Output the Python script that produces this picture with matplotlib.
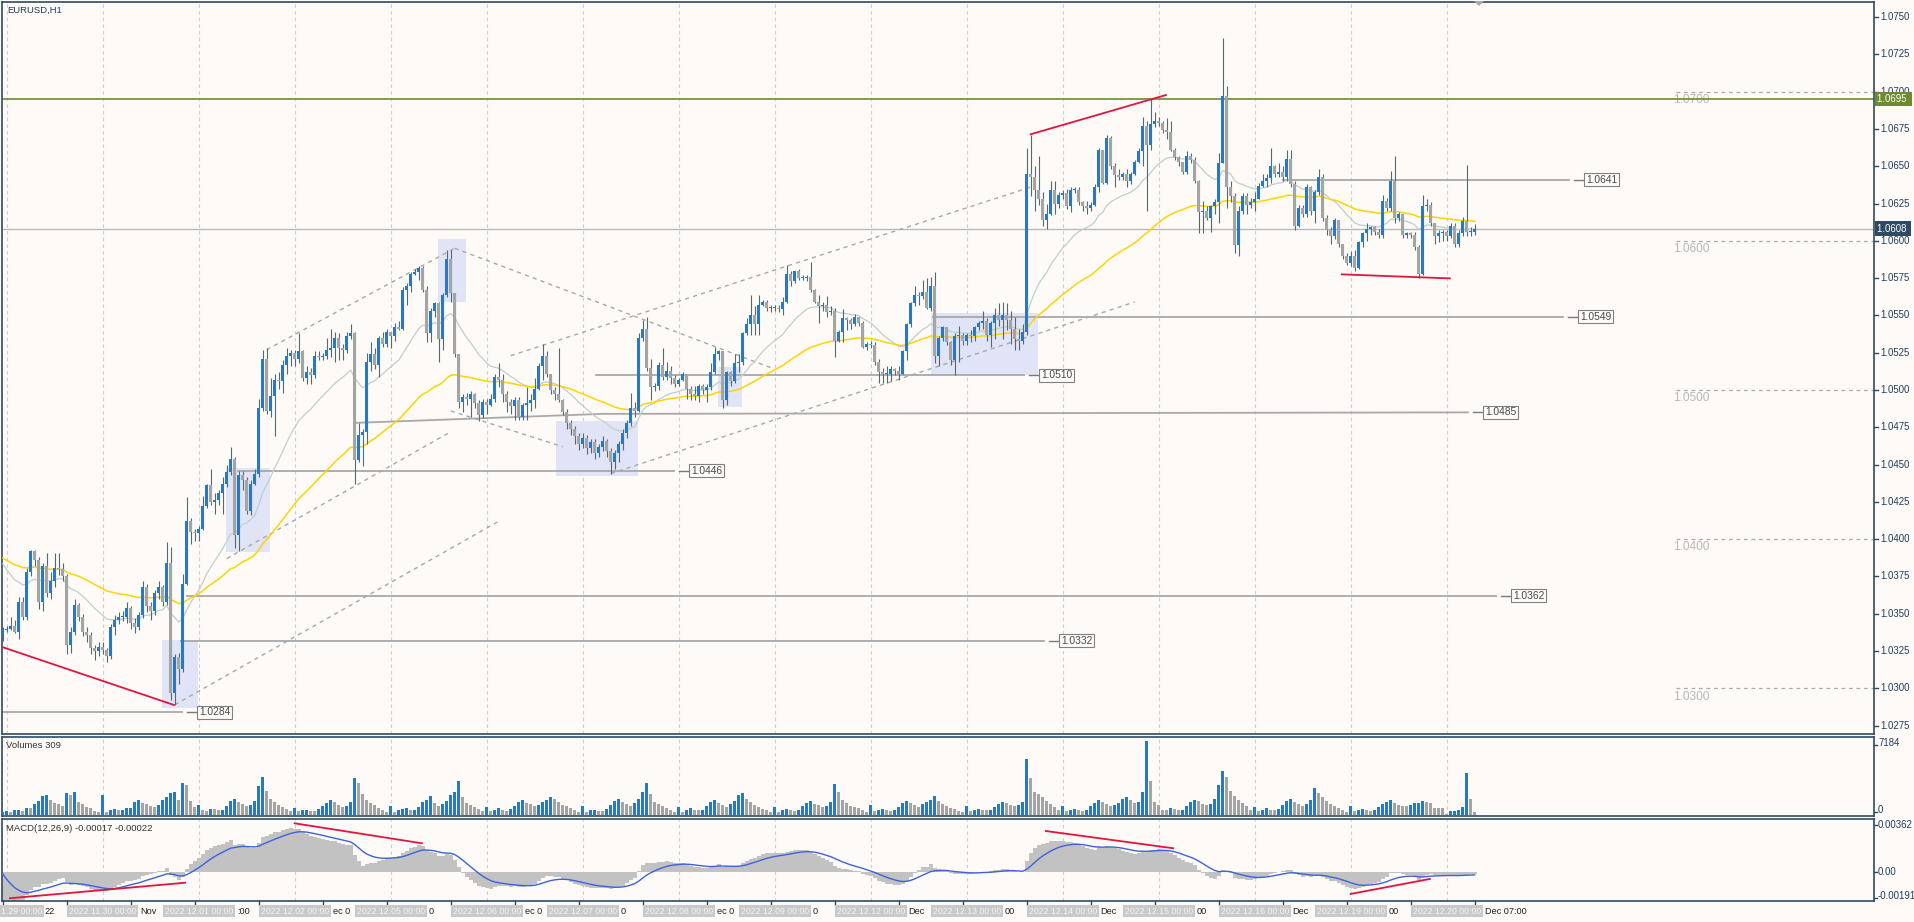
import numpy as np
import matplotlib
matplotlib.use("Agg")
import matplotlib.pyplot as plt
import matplotlib.transforms as mtrans
from matplotlib.patches import Rectangle, Polygon

plt.rcParams['font.family'] = ['Liberation Sans', 'DejaVu Sans']

# ---------------- data (prices in 1e-4 above 1.0000) ----------------
first_open_pips = 336
close_pips = [
 339,340,342,338,358,348,378,392,386,358, 382,364,372,381,380,375,329,338,356,348,
 338,336,327,325,328,326,322,341,346,348, 348,354,344,341,349,368,355,352,364,368,
 358,384,297,321,313,370,412,405,404,407, 422,436,425,426,431,437,445,454,403,443,
 440,419,437,444,488,521,486,496,507,506, 517,523,525,521,526,508,512,510,523,522,
 523,527,528,535,528,527,536,538,453,470, 472,519,524,517,535,531,539,536,542,541,
 567,570,578,579,582,567,538,553,558,534, 564,588,565,524,492,495,494,497,491,483,
 492,490,494,509,507,497,492,489,493,482, 490,491,493,501,516,523,511,500,497,493,
 485,478,474,469,464,468,461,465,458,462, 466,459,452,458,464,471,478,488,486,535,
 541,515,502,503,517,509,513,508,504,507, 511,501,497,496,503,500,502,512,524,526,
 493,512,506,518,519,538,544,550,544,557, 559,555,555,555,554,559,578,573,580,575,
 575,576,567,559,556,557,552,553,533,539, 548,547,544,549,545,529,531,530,519,512,
 511,511,514,513,511,526,544,558,564,563, 566,555,570,523,535,542,532,520,536,537,
 533,537,536,542,545,546,537,545,550,547, 550,547,541,534,533,539,645,643,634,628,
 614,618,634,625,631,632,623,634,634,626, 623,622,624,636,661,639,669,650,644,643,
 645,640,645,653,660,677,664,678,680,679, 674,673,661,656,653,646,657,654,640,619,
 620,615,623,626,652,697,636,630,597,620, 630,624,626,628,637,640,642,650,645,646,
 643,655,638,610,622,618,636,620,633,643, 615,607,603,614,598,590,585,590,582,599,
 605,608,609,606,604,627,622,640,615,618, 604,605,604,596,578,623,624,612,603,605,
 606,603,610,598,605,613,606,606,608]
high_pips = [
 341,342,348,346,361,361,381,393,393,388, 384,391,378,391,391,384,377,341,360,357,
 350,341,338,329,331,331,327,343,349,351, 352,358,355,347,351,372,370,358,366,372,
 369,398,395,323,324,377,428,414,407,409, 429,437,447,431,433,442,450,462,455,446,
 446,442,440,447,494,527,528,508,511,512, 520,528,527,527,538,527,516,515,526,526,
 525,535,541,539,538,531,539,544,539,478, 474,525,532,528,536,539,541,538,545,546,
 569,572,579,581,583,583,570,555,559,559, 565,594,594,565,524,497,498,499,498,493,
 494,494,497,511,518,511,499,494,495,495, 491,502,497,508,518,531,526,511,502,528,
 494,487,480,476,471,471,470,467,467,464, 469,467,461,460,466,474,480,498,492,538,
 547,549,521,505,519,528,519,516,510,508, 512,511,503,503,504,504,504,518,529,527,
 526,513,513,524,524,539,548,564,556,564, 560,560,557,557,557,562,584,580,580,581,
 577,577,586,568,564,559,563,556,555,540, 554,549,548,551,549,546,532,533,532,521,
 515,516,516,515,516,527,545,559,570,566, 574,575,576,579,536,543,542,533,538,543,
 538,538,540,543,546,553,548,546,555,558, 559,558,553,549,541,544,662,671,650,657,
 633,625,640,640,633,634,635,636,636,636, 627,627,626,638,662,661,671,670,652,648,
 646,648,646,654,662,683,680,695,686,683, 680,682,680,662,657,653,660,659,656,641,
 627,623,624,628,659,736,704,640,632,623, 632,632,629,633,639,645,645,662,651,652,
 650,661,661,640,624,624,638,637,634,648, 645,617,609,615,613,598,592,593,594,600,
 606,612,610,610,608,631,629,647,657,619, 618,606,606,606,597,631,628,626,612,607,
 607,607,612,612,607,616,651,609,611]
low_pips = [
 332,338,339,337,333,346,346,375,382,353, 352,361,360,368,376,372,323,324,336,345,
 335,331,323,319,322,323,318,320,336,343, 345,344,340,337,339,347,351,346,349,360,
 355,356,292,289,303,311,369,397,399,399, 406,421,423,417,423,417,435,443,394,392,
 433,417,416,436,442,486,484,482,469,501, 498,511,516,516,518,506,504,504,508,520,
 520,521,522,519,520,520,525,534,437,452, 449,464,513,514,509,529,529,528,533,540,
 540,557,566,577,574,566,532,532,549,519, 527,562,559,522,488,485,490,482,488,479,
 481,484,489,492,502,492,485,484,480,480, 480,480,486,488,500,507,509,497,493,492,
 483,474,470,464,460,461,457,458,454,455, 459,455,444,447,452,460,468,476,482,485,
 533,513,493,499,500,507,507,504,502,503, 506,494,493,493,492,497,492,500,511,520,
 488,490,503,505,512,517,537,537,537,537, 556,553,552,553,552,550,558,570,572,574,
 574,573,566,558,545,553,549,550,522,532, 532,540,541,543,543,528,527,528,517,505,
 505,505,506,510,507,513,520,542,556,557, 561,554,553,518,516,533,530,517,510,519,
 530,530,532,533,540,541,533,529,534,543, 534,540,531,527,527,531,537,630,620,624,
 610,608,617,618,622,628,621,619,632,624, 620,618,620,623,633,638,638,648,636,641,
 641,636,638,644,652,650,620,661,676,677, 672,668,660,654,650,645,645,652,639,605,
 605,614,606,618,612,652,622,626,592,590, 618,618,622,620,628,636,636,639,643,643,
 640,640,636,607,609,616,616,617,612,631, 613,604,598,601,596,588,584,583,580,581,
 596,600,604,604,602,602,620,620,612,613, 602,602,602,594,575,577,620,610,598,599,
 600,600,602,596,596,603,603,603,604]
volumes = [250,
 350,300,450,500,400,700,650,1100,1400,1800,1900,1500,1200,1100,900,2100,1900,2200,1300,1100,800,700,400,250,
 1900,300,500,600,450,500,650,700,1300,1500,1200,1100,900,800,1000,1500,1700,2100,2200,1500,3100,2900,1400,800,
 1000,500,400,600,550,450,500,900,1400,1600,1300,1100,900,1000,1400,2800,3700,2300,1600,1300,1000,800,600,400,
 700,400,450,500,400,350,600,900,1200,1500,1300,1000,800,900,1300,3600,3100,2000,1500,1200,1000,700,500,300,
 900,300,500,600,650,450,500,800,1300,1500,1800,1200,900,1100,1400,1900,2200,3300,1700,1200,1000,800,600,400,
 800,350,500,700,500,400,600,900,1300,1500,1200,1100,900,1000,1300,1500,1700,1600,1300,1000,900,700,450,300,
 900,300,450,500,400,400,600,1000,1400,1600,1300,1100,900,1200,1600,2200,3100,2000,1300,1100,900,700,500,300,
 800,300,500,700,500,450,500,900,1300,1500,1200,1000,800,1100,1400,1900,2100,1600,1300,1000,800,600,500,300,
 800,300,450,600,500,400,500,900,1200,1400,1100,1000,800,900,1300,3000,2200,1500,1200,900,800,700,500,300,
 1000,400,500,600,500,400,500,800,1200,1400,1200,1000,800,1100,1300,1500,1800,1400,1100,900,700,600,400,300,
 900,400,450,600,500,450,500,800,1100,1300,1200,1000,900,1000,1300,5400,3600,2200,2000,1700,1400,1100,800,500,
 900,400,500,600,500,400,500,900,1200,1500,1300,1100,900,1000,1200,1600,1700,1500,1200,1300,2200,7184,3300,1300,
 1000,500,500,700,550,450,500,900,1300,1500,1400,1100,1000,1100,1600,2900,4300,3700,2300,1800,1500,1200,900,500,
 800,400,500,700,500,450,600,1000,1400,1600,1300,1100,900,1100,1500,2600,2100,1700,1400,1100,900,700,500,300,
 900,350,450,600,500,400,500,800,1100,1300,1500,1200,1000,900,840,940,1170,1200,1360,1260,1170,680,680,650,
 70,390,400,520,780,4080,1590,309]
day_labels = ["2022.11.29 00:00", "2022.11.30 00:00", "2022.12.01 00:00", "2022.12.02 00:00",
              "2022.12.05 00:00", "2022.12.06 00:00", "2022.12.07 00:00", "2022.12.08 00:00",
              "2022.12.09 00:00", "2022.12.12 00:00", "2022.12.13 00:00", "2022.12.14 00:00",
              "2022.12.15 00:00", "2022.12.16 00:00", "2022.12.19 00:00", "2022.12.20 00:00"]
# parts of the platform's own time labels that show between the day boxes
label_tails = ["22", "Nov", ":00", "ec 0", "0", "ec 0", "0", "ec 0", "0", "Dec", "00",
               "Dec", "00", "Dec", "00", "Dec 07:00"]
# indicator starting states (history before the first visible bar)
ma_fast_seed, ma_slow_seed = 1.0388, 1.0389
ema12_seed, ema26_seed, signal_seed = 1.0378, 1.0398, 0.0004

# annotation objects: horizontal levels (price, start px, end px)
levels = [(1.0284, 0, 182), (1.0332, 181, 1044), (1.0362, 187, 1496), (1.0446, 238, 674),
          (1.0510, 596, 1024), (1.0549, 933, 1563), (1.0641, 1283, 1569)]
round_levels = [1.0700, 1.0600, 1.0500, 1.0400, 1.0300]
trend_dashed = [(66, 527, 113, 595), (113, 595, 192, 515), (112, 486, 140, 462),
                (127, 523, 257, 636), (43, 289, 124, 412), (56, 387, 112, 472),
                (152, 444, 283, 559)]
red_price = [(-0.2, 327.8, 42.8, 288.9), (257, 671.4, 290.8, 697.7), (334.8, 577.5, 361.8, 574.8)]
red_macd = [(1.8, -0.00199, 45.6, -0.00080), (73, 0.00375, 104.8, 0.00222),
            (260.8, 0.00316, 292.6, 0.00184), (337, -0.00166, 356.8, -0.00051)]
boxes = [(39.8, 48.8, 286.9, 332.4), (55.8, 66.8, 391.4, 447.7), (108.8, 115.8, 559, 601.2),
         (138.3, 158.8, 442.4, 479.2), (178.8, 184.8, 488.6, 515.4), (232.1, 258.8, 510, 551.6)]

# ---------------- prepare ----------------
C = 1 + np.array(close_pips) / 1e4
Hh = 1 + np.array(high_pips) / 1e4
Ll = 1 + np.array(low_pips) / 1e4
O = np.concatenate([[1 + first_open_pips / 1e4], C[:-1]])
V = np.array(volumes, dtype=float)
N = len(C)
x = np.arange(N)

def ema(vals, span, seed):
    a = 2.0 / (span + 1); e = seed; out = []
    for v in vals:
        e = e + a * (v - e); out.append(e)
    return np.array(out)

ma_fast = ema(C, 21, ma_fast_seed)
ma_slow = ema(C, 60, ma_slow_seed)
macd = ema(C, 12, ema12_seed) - ema(C, 26, ema26_seed)
signal = ema(macd, 9, signal_seed)

# ---------------- style ----------------
W, Hpx = 1915, 922
BG = "#FDFAF8"
FRAME = "#2F4B64"
BLUE = "#2A77C2"
GREYC = "#A4A4A4"
WICK = "#56696C"
TXT = "#1F3B5A"
GRID = "#CDCDCD"

fig = plt.figure(figsize=(W / 100, Hpx / 100), dpi=100, facecolor=BG)

def rect(x0, y0, x1, y1):
    return [x0 / W, 1 - y1 / Hpx, (x1 - x0) / W, (y1 - y0) / Hpx]

def px2bar(px):
    return (px - 2.7) / 4.0

def ftext(xp, yp, s, **kw):
    return fig.text(xp / W, 1 - yp / Hpx, s, **kw)

ax = fig.add_axes(rect(2, 2, 1874, 734))
axv = fig.add_axes(rect(2, 737, 1874, 816))
axm = fig.add_axes(rect(2, 819, 1874, 901))
XL = (px2bar(2), px2bar(1874))
for a in (ax, axv, axm):
    a.set_facecolor(BG)
    a.set_xlim(*XL)
    for s in a.spines.values():
        s.set_color(FRAME); s.set_linewidth(1.2)
    a.tick_params(axis='x', which='both', bottom=False, labelbottom=False)
    a.set_yticks([])
    for k in range(len(day_labels)):
        a.axvline(1 + 24 * k, color=GRID, lw=0.8, ls=(0, (3, 3)), zorder=0)

ytop = 1 + (750 + 15 / 1.492) / 1e4
ybot = 1 + (750 - 717 / 1.492) / 1e4
ax.set_ylim(ybot, ytop)

# shaded boxes
for (b0, b1, p0, p1) in boxes:
    ax.add_patch(Rectangle((b0, 1 + p0 / 1e4), b1 - b0, (p1 - p0) / 1e4,
                           fc="#E1E3F6", ec="none", zorder=1))

# round number levels on right
for lv in round_levels:
    ax.plot([px2bar(1676), XL[1]], [lv, lv], color="#ABABAB", lw=0.9, ls=(0, (3, 3)), zorder=2)
    ax.text(px2bar(1673), lv - 0.00055, f"{lv:.4f}", fontsize=8.6, color="#B8B8B8",
            ha='left', va='center', zorder=2)

# horizontal levels with labels
for (p, x0p, x1p) in levels:
    ax.plot([px2bar(x0p), px2bar(x1p)], [p, p], color="#A9A9A9", lw=1.3, zorder=2)
    ax.plot([px2bar(x1p + 5), px2bar(x1p + 15)], [p, p], color="#7A7A7A", lw=1.0, zorder=2)
    ax.text(px2bar(x1p + 17), p, f"{p:.4f}", fontsize=7.4, color="#4A4A4A", ha='left',
            va='center', zorder=6,
            bbox=dict(boxstyle='square,pad=0.15', fc=BG, ec='#808080', lw=0.8))
# slightly sloped 1.0485 level
ax.plot([88.5, 150, px2bar(1468)], [1.0478, 1.0484, 1.0485], color="#A9A9A9", lw=1.3, zorder=2)
ax.plot([px2bar(1473), px2bar(1483)], [1.0485, 1.0485], color="#7A7A7A", lw=1.0, zorder=2)
ax.text(px2bar(1485), 1.0485, "1.0485", fontsize=7.4, color="#4A4A4A", ha='left', va='center',
        zorder=6, bbox=dict(boxstyle='square,pad=0.15', fc=BG, ec='#808080', lw=0.8))

# price lines
ax.axhline(1.0695, color="#6E8B2F", lw=1.2, zorder=2)
ax.axhline(1.0608, color="#B9B9B9", lw=1.0, zorder=2)

# dashed trend lines
for (b0, p0, b1, p1) in trend_dashed:
    ax.plot([b0, b1], [1 + p0 / 1e4, 1 + p1 / 1e4], color="#A8A8A8", lw=1.0,
            ls=(0, (3, 3)), zorder=2)

# moving averages
ax.plot(x, ma_fast, color="#BED0CC", lw=0.9, zorder=3)
ax.plot(x, ma_slow, color="#FFD400", lw=1.1, zorder=3)

# candles
lo = np.minimum(Ll, np.minimum(O, C))
hi = np.maximum(Hh, np.maximum(O, C))
ax.vlines(x, lo, hi, color=WICK, lw=0.8, zorder=4)
up = C >= O
bb = np.minimum(O, C)
bh = np.maximum(np.abs(C - O), 0.00007)
ax.bar(x[up], bh[up], bottom=bb[up], width=0.75, color=BLUE, lw=0, zorder=5)
ax.bar(x[~up], bh[~up], bottom=bb[~up], width=0.75, color=GREYC, lw=0, zorder=5)

# red lines
for (b0, p0, b1, p1) in red_price:
    ax.plot([b0, b1], [1 + p0 / 1e4, 1 + p1 / 1e4], color="#E3153E", lw=1.3, zorder=6)

# right axis price labels
for i in range(20):
    p = 1.0275 + 0.0025 * i
    yfr = (p - ybot) / (ytop - ybot)
    ax.plot([1.0, 1.0 + 4 / 1872], [yfr, yfr], transform=ax.transAxes, color=FRAME,
            lw=1.0, clip_on=False)
    ax.text(1.0 + 6 / 1872, yfr, f"{p:.4f}", transform=ax.transAxes, fontsize=6.9,
            color=TXT, ha='left', va='center')

trans_r = mtrans.blended_transform_factory(ax.transAxes, ax.transData)
ax.text(1.0 + 3 / 1872, 1.0695, "1.0695 ", transform=trans_r, fontsize=6.9, color="white",
        ha='left', va='center', zorder=10, clip_on=False,
        bbox=dict(boxstyle='square,pad=0.25', fc="#6E8B2F", ec="none"))
ax.text(1.0 + 3 / 1872, 1.0608, "1.0608 ", transform=trans_r, fontsize=6.9, color="white",
        ha='left', va='center', zorder=10, clip_on=False,
        bbox=dict(boxstyle='square,pad=0.25', fc="#2F4B64", ec="none"))

# ---------------- volumes ----------------
axv.set_ylim(-97, 7572)
vup = np.concatenate([[True], V[1:] > V[:-1]])
axv.bar(x[vup], V[vup], width=0.75, color=BLUE, lw=0, zorder=3)
axv.bar(x[~vup], V[~vup], width=0.75, color=GREYC, lw=0, zorder=3)

# ---------------- MACD ----------------
axm.set_ylim(-0.0022, 0.00408)
axm.bar(x, macd, width=1.0, color="#C2C2C2", lw=0, zorder=2)
axm.plot(x, signal, color="#3E62DC", lw=1.0, zorder=3)
for (b0, v0, b1, v1) in red_macd:
    axm.plot([b0, b1], [v0, v1], color="#E3153E", lw=1.3, zorder=4)

# panel right labels
for (yp, s) in [(743, "7184"), (810, "0")]:
    ftext(1878, yp, s, fontsize=6.9, color=TXT, ha='left', va='center')
for (yp, s) in [(825, "0.00362"), (872, "0.00"), (896, "-0.00191")]:
    ftext(1878, yp, s, fontsize=6.9, color=TXT, ha='left', va='center')
for yp in [745, 812, 825, 872, 898]:
    fig.add_artist(plt.Line2D([1874 / W, 1877 / W], [1 - yp / Hpx, 1 - yp / Hpx],
                              color=FRAME, lw=1.0))

# titles
ftext(7, 10, "EURUSD,H1", fontsize=6.8, color=TXT, ha='left', va='center')
ftext(6, 745, "Volumes 309", fontsize=6.8, color="#333333", ha='left', va='center')
ftext(6, 828, "MACD(12,26,9) -0.00017 -0.00022", fontsize=6.8, color="#333333",
      ha='left', va='center')

# ---------------- time axis ----------------
for b in range(0, N, 16):
    xb = 2.7 + 4 * b
    fig.add_artist(plt.Line2D([xb / W, xb / W], [1 - 901 / Hpx, 1 - 905 / Hpx],
                              color=FRAME, lw=1.0))
for k, lab in enumerate(day_labels):
    gx = 2.7 + 4 * (1 + 24 * k)
    if k == 0:
        ftext(1, 911, lab[-10:], fontsize=6.3, color="#F5F5F5", ha='left', va='center',
              bbox=dict(boxstyle='square,pad=0.2', fc="#C9C9C9", ec="none"))
    else:
        ftext(gx, 911, lab, fontsize=6.3, color="#F5F5F5", ha='center', va='center',
              bbox=dict(boxstyle='square,pad=0.2', fc="#C9C9C9", ec="none"))
    ftext(gx + 38, 911, label_tails[k], fontsize=6.6, color="#222222", ha='left', va='center')

# chart shift marker
fig.add_artist(Polygon([[1474 / W, 1 - 1 / Hpx], [1484 / W, 1 - 1 / Hpx], [1479 / W, 1 - 6 / Hpx]],
                       closed=True, fc="#A8A8A8", ec="none", transform=fig.transFigure))

fig.savefig("out.png", dpi=100, facecolor=BG)
